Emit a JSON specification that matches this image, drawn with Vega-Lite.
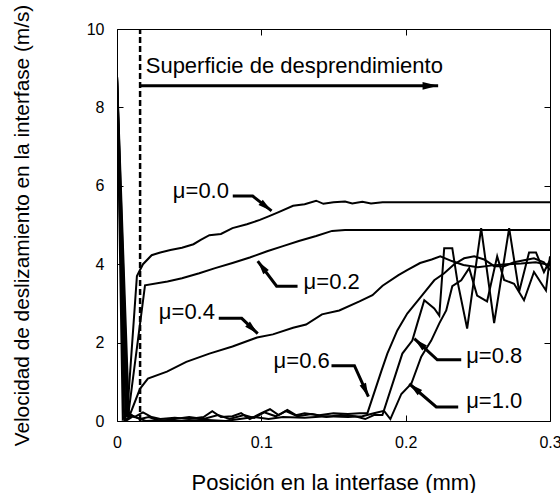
{
  "$schema": "https://vega.github.io/schema/vega-lite/v6.json",
  "width": 433,
  "height": 392,
  "autosize": {"type": "none"},
  "padding": {"left": 117, "top": 29, "right": 10, "bottom": 72},
  "background": "white",
  "config": {
    "font": "Liberation Sans",
    "view": {"stroke": "black", "strokeWidth": 1},
    "axis": {"grid": false, "domain": false, "tickColor": "black", "labelColor": "black", "titleColor": "black", "tickSize": -6, "labelFontSize": 16, "titleFontSize": 22, "titleFontWeight": "normal", "labelFlush": false, "labelOverlap": false}
  },
  "datasets": {
    "curves": [
      {"mu":"0.0","x":0,"y":8.8},{"mu":"0.0","x":0.0069,"y":0.1},{"mu":"0.0","x":0.0138,"y":3.7},{"mu":"0.0","x":0.018,"y":4.0},{"mu":"0.0","x":0.024,"y":4.23},{"mu":"0.0","x":0.03,"y":4.3},{"mu":"0.0","x":0.037,"y":4.36},{"mu":"0.0","x":0.045,"y":4.42},{"mu":"0.0","x":0.053,"y":4.51},{"mu":"0.0","x":0.058,"y":4.62},{"mu":"0.0","x":0.064,"y":4.74},{"mu":"0.0","x":0.072,"y":4.77},{"mu":"0.0","x":0.08,"y":4.92},{"mu":"0.0","x":0.09,"y":5.02},{"mu":"0.0","x":0.099,"y":5.13},{"mu":"0.0","x":0.105,"y":5.22},{"mu":"0.0","x":0.112,"y":5.33},{"mu":"0.0","x":0.122,"y":5.49},{"mu":"0.0","x":0.13,"y":5.53},{"mu":"0.0","x":0.138,"y":5.62},{"mu":"0.0","x":0.143,"y":5.54},{"mu":"0.0","x":0.15,"y":5.58},{"mu":"0.0","x":0.158,"y":5.6},{"mu":"0.0","x":0.163,"y":5.55},{"mu":"0.0","x":0.17,"y":5.59},{"mu":"0.0","x":0.176,"y":5.55},{"mu":"0.0","x":0.184,"y":5.58},{"mu":"0.0","x":0.3,"y":5.58},
      {"mu":"0.2","x":0,"y":8.8},{"mu":"0.2","x":0.0076,"y":0.1},{"mu":"0.2","x":0.0194,"y":3.46},{"mu":"0.2","x":0.035,"y":3.56},{"mu":"0.2","x":0.045,"y":3.64},{"mu":"0.2","x":0.057,"y":3.77},{"mu":"0.2","x":0.068,"y":3.9},{"mu":"0.2","x":0.08,"y":4.03},{"mu":"0.2","x":0.092,"y":4.17},{"mu":"0.2","x":0.104,"y":4.33},{"mu":"0.2","x":0.115,"y":4.46},{"mu":"0.2","x":0.126,"y":4.59},{"mu":"0.2","x":0.138,"y":4.72},{"mu":"0.2","x":0.149,"y":4.85},{"mu":"0.2","x":0.158,"y":4.87},{"mu":"0.2","x":0.3,"y":4.87},
      {"mu":"0.4","x":0,"y":8.8},{"mu":"0.4","x":0.0083,"y":0.1},{"mu":"0.4","x":0.0159,"y":0.82},{"mu":"0.4","x":0.0214,"y":1.08},{"mu":"0.4","x":0.0346,"y":1.26},{"mu":"0.4","x":0.048,"y":1.51},{"mu":"0.4","x":0.064,"y":1.72},{"mu":"0.4","x":0.08,"y":1.9},{"mu":"0.4","x":0.097,"y":2.13},{"mu":"0.4","x":0.108,"y":2.21},{"mu":"0.4","x":0.122,"y":2.38},{"mu":"0.4","x":0.131,"y":2.46},{"mu":"0.4","x":0.142,"y":2.72},{"mu":"0.4","x":0.154,"y":2.82},{"mu":"0.4","x":0.168,"y":3.05},{"mu":"0.4","x":0.177,"y":3.21},{"mu":"0.4","x":0.184,"y":3.45},{"mu":"0.4","x":0.195,"y":3.72},{"mu":"0.4","x":0.201,"y":3.85},{"mu":"0.4","x":0.21,"y":4.03},{"mu":"0.4","x":0.218,"y":4.12},{"mu":"0.4","x":0.224,"y":4.2},{"mu":"0.4","x":0.232,"y":4.08},{"mu":"0.4","x":0.24,"y":3.98},{"mu":"0.4","x":0.25,"y":3.92},{"mu":"0.4","x":0.26,"y":3.97},{"mu":"0.4","x":0.27,"y":4.0},{"mu":"0.4","x":0.28,"y":4.02},{"mu":"0.4","x":0.29,"y":4.05},{"mu":"0.4","x":0.3,"y":3.98},
      {"mu":"0.6","x":0,"y":8.8},{"mu":"0.6","x":0.004,"y":0.05},{"mu":"0.6","x":0.008,"y":0.2},{"mu":"0.6","x":0.012,"y":0.1},{"mu":"0.6","x":0.018,"y":0.22},{"mu":"0.6","x":0.024,"y":0.1},{"mu":"0.6","x":0.03,"y":0.05},{"mu":"0.6","x":0.04,"y":0.08},{"mu":"0.6","x":0.05,"y":0.05},{"mu":"0.6","x":0.06,"y":0.1},{"mu":"0.6","x":0.066,"y":0.25},{"mu":"0.6","x":0.072,"y":0.1},{"mu":"0.6","x":0.08,"y":0.12},{"mu":"0.6","x":0.086,"y":0.2},{"mu":"0.6","x":0.092,"y":0.05},{"mu":"0.6","x":0.1,"y":0.2},{"mu":"0.6","x":0.106,"y":0.3},{"mu":"0.6","x":0.112,"y":0.15},{"mu":"0.6","x":0.118,"y":0.28},{"mu":"0.6","x":0.124,"y":0.15},{"mu":"0.6","x":0.13,"y":0.2},{"mu":"0.6","x":0.14,"y":0.15},{"mu":"0.6","x":0.15,"y":0.2},{"mu":"0.6","x":0.16,"y":0.18},{"mu":"0.6","x":0.168,"y":0.2},{"mu":"0.6","x":0.1735,"y":0.2},{"mu":"0.6","x":0.1832,"y":1.28},{"mu":"0.6","x":0.1873,"y":1.72},{"mu":"0.6","x":0.1942,"y":2.31},{"mu":"0.6","x":0.2011,"y":2.74},{"mu":"0.6","x":0.2108,"y":3.18},{"mu":"0.6","x":0.2198,"y":3.59},{"mu":"0.6","x":0.2267,"y":3.77},{"mu":"0.6","x":0.2336,"y":4.0},{"mu":"0.6","x":0.2405,"y":4.15},{"mu":"0.6","x":0.2475,"y":4.2},{"mu":"0.6","x":0.2544,"y":4.12},{"mu":"0.6","x":0.2613,"y":3.95},{"mu":"0.6","x":0.2682,"y":3.95},{"mu":"0.6","x":0.2751,"y":4.05},{"mu":"0.6","x":0.282,"y":4.1},{"mu":"0.6","x":0.2889,"y":4.15},{"mu":"0.6","x":0.2958,"y":4.05},{"mu":"0.6","x":0.3,"y":3.85},
      {"mu":"0.8","x":0,"y":8.8},{"mu":"0.8","x":0.005,"y":0.0},{"mu":"0.8","x":0.01,"y":0.15},{"mu":"0.8","x":0.016,"y":0.05},{"mu":"0.8","x":0.022,"y":0.1},{"mu":"0.8","x":0.03,"y":0.0},{"mu":"0.8","x":0.04,"y":0.05},{"mu":"0.8","x":0.05,"y":0.1},{"mu":"0.8","x":0.06,"y":0.05},{"mu":"0.8","x":0.07,"y":0.15},{"mu":"0.8","x":0.078,"y":0.05},{"mu":"0.8","x":0.088,"y":0.15},{"mu":"0.8","x":0.095,"y":0.08},{"mu":"0.8","x":0.102,"y":0.22},{"mu":"0.8","x":0.11,"y":0.12},{"mu":"0.8","x":0.117,"y":0.25},{"mu":"0.8","x":0.125,"y":0.12},{"mu":"0.8","x":0.135,"y":0.18},{"mu":"0.8","x":0.145,"y":0.1},{"mu":"0.8","x":0.155,"y":0.15},{"mu":"0.8","x":0.165,"y":0.12},{"mu":"0.8","x":0.172,"y":0.05},{"mu":"0.8","x":0.178,"y":0.15},{"mu":"0.8","x":0.1839,"y":0.15},{"mu":"0.8","x":0.1977,"y":1.72},{"mu":"0.8","x":0.2046,"y":2.05},{"mu":"0.8","x":0.2081,"y":2.49},{"mu":"0.8","x":0.2129,"y":3.08},{"mu":"0.8","x":0.2198,"y":2.87},{"mu":"0.8","x":0.2233,"y":2.69},{"mu":"0.8","x":0.2267,"y":4.41},{"mu":"0.8","x":0.2323,"y":4.41},{"mu":"0.8","x":0.2357,"y":3.6},{"mu":"0.8","x":0.2426,"y":2.36},{"mu":"0.8","x":0.2523,"y":4.92},{"mu":"0.8","x":0.2613,"y":2.5},{"mu":"0.8","x":0.2717,"y":4.92},{"mu":"0.8","x":0.2786,"y":3.3},{"mu":"0.8","x":0.2855,"y":4.3},{"mu":"0.8","x":0.2903,"y":4.3},{"mu":"0.8","x":0.2958,"y":3.8},{"mu":"0.8","x":0.3,"y":4.1},
      {"mu":"1.0","x":0,"y":8.8},{"mu":"1.0","x":0.006,"y":0.0},{"mu":"1.0","x":0.011,"y":0.12},{"mu":"1.0","x":0.02,"y":0.0},{"mu":"1.0","x":0.03,"y":0.02},{"mu":"1.0","x":0.045,"y":0.0},{"mu":"1.0","x":0.06,"y":0.03},{"mu":"1.0","x":0.075,"y":0.0},{"mu":"1.0","x":0.085,"y":0.05},{"mu":"1.0","x":0.095,"y":0.1},{"mu":"1.0","x":0.105,"y":0.05},{"mu":"1.0","x":0.115,"y":0.1},{"mu":"1.0","x":0.13,"y":0.08},{"mu":"1.0","x":0.145,"y":0.12},{"mu":"1.0","x":0.16,"y":0.1},{"mu":"1.0","x":0.17,"y":0.12},{"mu":"1.0","x":0.178,"y":0.2},{"mu":"1.0","x":0.185,"y":0.26},{"mu":"1.0","x":0.1894,"y":0.05},{"mu":"1.0","x":0.197,"y":0.69},{"mu":"1.0","x":0.2039,"y":0.95},{"mu":"1.0","x":0.2108,"y":1.64},{"mu":"1.0","x":0.2177,"y":2.05},{"mu":"1.0","x":0.2233,"y":2.49},{"mu":"1.0","x":0.2281,"y":2.82},{"mu":"1.0","x":0.2323,"y":3.44},{"mu":"1.0","x":0.2385,"y":3.59},{"mu":"1.0","x":0.244,"y":3.9},{"mu":"1.0","x":0.2495,"y":3.2},{"mu":"1.0","x":0.2564,"y":3.05},{"mu":"1.0","x":0.2634,"y":4.2},{"mu":"1.0","x":0.2682,"y":3.6},{"mu":"1.0","x":0.2751,"y":3.5},{"mu":"1.0","x":0.282,"y":3.08},{"mu":"1.0","x":0.2889,"y":3.8},{"mu":"1.0","x":0.2972,"y":3.33},{"mu":"1.0","x":0.3,"y":4.2}
    ],
    "leaders": [
      {"id":"a0","k":1,"x":0.0802,"y":5.74},{"id":"a0","k":2,"x":0.094,"y":5.74},{"id":"a0","k":3,"x":0.1071,"y":5.36},
      {"id":"a2","k":1,"x":0.1251,"y":3.44},{"id":"a2","k":2,"x":0.1106,"y":3.44},{"id":"a2","k":3,"x":0.0975,"y":4.08},
      {"id":"a4","k":1,"x":0.0705,"y":2.62},{"id":"a4","k":2,"x":0.0864,"y":2.62},{"id":"a4","k":3,"x":0.0975,"y":2.23},
      {"id":"a6","k":1,"x":0.1486,"y":1.41},{"id":"a6","k":2,"x":0.1645,"y":1.41},{"id":"a6","k":3,"x":0.1742,"y":0.62},
      {"id":"a8","k":1,"x":0.2385,"y":1.56},{"id":"a8","k":2,"x":0.2219,"y":1.56},{"id":"a8","k":3,"x":0.206,"y":2.1},
      {"id":"a10","k":1,"x":0.2364,"y":0.36},{"id":"a10","k":2,"x":0.2212,"y":0.36},{"id":"a10","k":3,"x":0.2025,"y":0.95},
      {"id":"main","k":1,"x":0.016,"y":8.55},{"id":"main","k":2,"x":0.2225,"y":8.55}
    ],
    "tips": [
      {"id":"a0","x":0.1071,"y":5.36},{"id":"a2","x":0.0975,"y":4.08},{"id":"a4","x":0.0975,"y":2.23},
      {"id":"a6","x":0.1742,"y":0.62},{"id":"a8","x":0.206,"y":2.1},{"id":"a10","x":0.2025,"y":0.95},{"id":"main","x":0.2225,"y":8.55}
    ],
    "labels": [
      {"text":"μ=0.0","x":0.0387,"y":5.87},
      {"text":"μ=0.2","x":0.1293,"y":3.55},
      {"text":"μ=0.4","x":0.029,"y":2.79},
      {"text":"μ=0.6","x":0.1085,"y":1.54},
      {"text":"μ=0.8","x":0.2419,"y":1.67},
      {"text":"μ=1.0","x":0.2419,"y":0.5},
      {"text":"Superficie de desprendimiento","x":0.0199,"y":9.06}
    ],
    "dash": [{"x":0.016,"y":0,"y2":10}]
  },
  "layer": [
    {
      "data": {"name": "curves"},
      "mark": {"type": "line", "color": "black", "strokeWidth": 2, "clip": true},
      "encoding": {
        "x": {"field": "x", "type": "quantitative", "scale": {"domain": [0, 0.3], "nice": false, "zero": false},
              "axis": {"orient": "bottom", "values": [0, 0.1, 0.2, 0.3], "format": "~g", "title": "Posición en la interfase (mm)", "labelPadding": 19, "titlePadding": 22}},
        "y": {"field": "y", "type": "quantitative", "scale": {"domain": [0, 10], "nice": false},
              "axis": {"orient": "left", "values": [0, 2, 4, 6, 8, 10], "title": "Velocidad de deslizamiento en la interfase (m/s)", "titleFontSize": 20.8, "labelPadding": 19, "titlePadding": 54}},
        "detail": {"field": "mu", "type": "nominal"}
      }
    },
    {
      "data": {"name": "dash"},
      "mark": {"type": "rule", "color": "black", "strokeWidth": 2.5, "strokeDash": [6, 3]},
      "encoding": {
        "x": {"field": "x", "type": "quantitative", "axis": {"orient": "top", "values": [0, 0.1, 0.2, 0.3], "labels": false, "title": null}},
        "y": {"field": "y", "type": "quantitative", "axis": {"orient": "right", "values": [0, 2, 4, 6, 8, 10], "labels": false, "title": null}},
        "y2": {"field": "y2"}
      }
    },
    {
      "data": {"name": "leaders"},
      "mark": {"type": "line", "color": "black", "strokeWidth": 3},
      "encoding": {
        "x": {"field": "x", "type": "quantitative", "axis": null},
        "y": {"field": "y", "type": "quantitative", "axis": null},
        "detail": {"field": "id", "type": "nominal"},
        "order": {"field": "k", "type": "quantitative"}
      }
    },
    {"data": {"name": "tips"}, "transform": [{"filter": "datum.id === 'a0'"}],
     "mark": {"type": "point", "shape": "M0,0L0.4,1.6L-0.4,1.6Z", "filled": true, "color": "black", "opacity": 1, "size": 300, "angle": 128},
     "encoding": {"x": {"field": "x", "type": "quantitative", "axis": null}, "y": {"field": "y", "type": "quantitative", "axis": null}}},
    {"data": {"name": "tips"}, "transform": [{"filter": "datum.id === 'a2'"}],
     "mark": {"type": "point", "shape": "M0,0L0.4,1.6L-0.4,1.6Z", "filled": true, "color": "black", "opacity": 1, "size": 300, "angle": 323},
     "encoding": {"x": {"field": "x", "type": "quantitative", "axis": null}, "y": {"field": "y", "type": "quantitative", "axis": null}}},
    {"data": {"name": "tips"}, "transform": [{"filter": "datum.id === 'a4'"}],
     "mark": {"type": "point", "shape": "M0,0L0.4,1.6L-0.4,1.6Z", "filled": true, "color": "black", "opacity": 1, "size": 300, "angle": 133},
     "encoding": {"x": {"field": "x", "type": "quantitative", "axis": null}, "y": {"field": "y", "type": "quantitative", "axis": null}}},
    {"data": {"name": "tips"}, "transform": [{"filter": "datum.id === 'a6'"}],
     "mark": {"type": "point", "shape": "M0,0L0.4,1.6L-0.4,1.6Z", "filled": true, "color": "black", "opacity": 1, "size": 300, "angle": 156},
     "encoding": {"x": {"field": "x", "type": "quantitative", "axis": null}, "y": {"field": "y", "type": "quantitative", "axis": null}}},
    {"data": {"name": "tips"}, "transform": [{"filter": "datum.id === 'a8'"}],
     "mark": {"type": "point", "shape": "M0,0L0.4,1.6L-0.4,1.6Z", "filled": true, "color": "black", "opacity": 1, "size": 300, "angle": 312},
     "encoding": {"x": {"field": "x", "type": "quantitative", "axis": null}, "y": {"field": "y", "type": "quantitative", "axis": null}}},
    {"data": {"name": "tips"}, "transform": [{"filter": "datum.id === 'a10'"}],
     "mark": {"type": "point", "shape": "M0,0L0.4,1.6L-0.4,1.6Z", "filled": true, "color": "black", "opacity": 1, "size": 300, "angle": 310},
     "encoding": {"x": {"field": "x", "type": "quantitative", "axis": null}, "y": {"field": "y", "type": "quantitative", "axis": null}}},
    {"data": {"name": "tips"}, "transform": [{"filter": "datum.id === 'main'"}],
     "mark": {"type": "point", "shape": "M0,0L0.4,1.6L-0.4,1.6Z", "filled": true, "color": "black", "opacity": 1, "size": 380, "angle": 90},
     "encoding": {"x": {"field": "x", "type": "quantitative", "axis": null}, "y": {"field": "y", "type": "quantitative", "axis": null}}},
    {
      "data": {"name": "labels"},
      "mark": {"type": "text", "align": "left", "baseline": "middle", "fontSize": 22, "color": "black"},
      "encoding": {
        "x": {"field": "x", "type": "quantitative", "axis": null},
        "y": {"field": "y", "type": "quantitative", "axis": null},
        "text": {"field": "text"}
      }
    }
  ],
  "resolve": {"axis": {"x": "independent", "y": "independent"}}
}
